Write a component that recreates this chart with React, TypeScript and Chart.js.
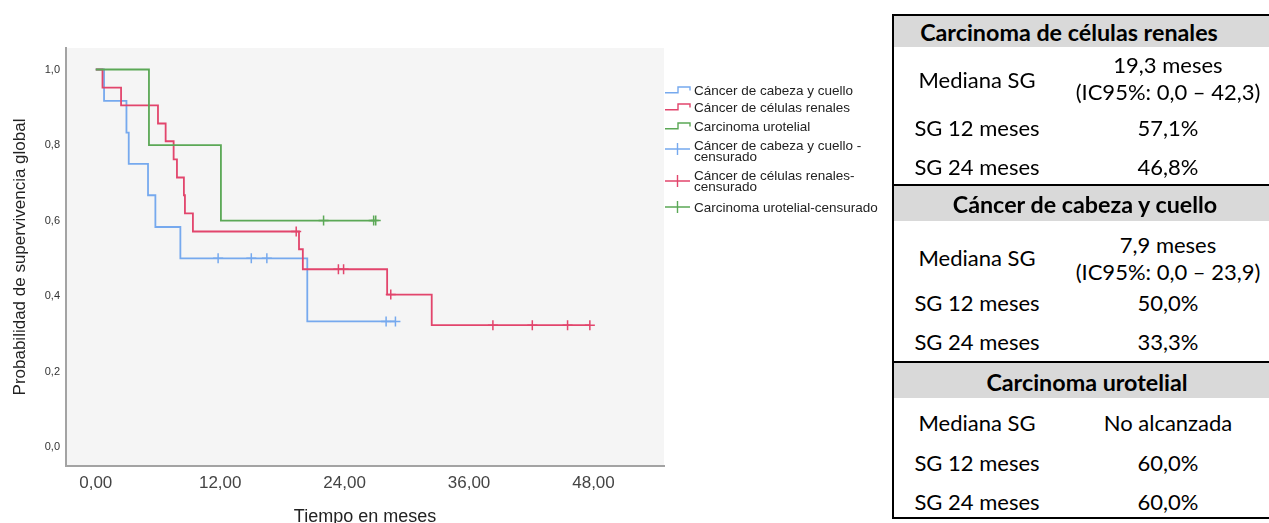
import React, { useEffect, useRef } from 'react';
import { Chart, registerables } from 'chart.js';

Chart.register(...registerables);

// ---------- data ----------
const X_TICKS = [0, 12, 24, 36, 48];
const Y_TICKS = [0, 0.2, 0.4, 0.6, 0.8, 1.0];

const SERIES_NAMES = ['Cáncer de cabeza y cuello', 'Cáncer de células renales', 'Carcinoma urotelial'];
const CENSORED_NAMES = [
  ['Cáncer de cabeza y cuello -', 'censurado'],
  ['Cáncer de células renales-', 'censurado'],
  ['Carcinoma urotelial-censurado'],
];
const COLORS = ['#76a9ee', '#e2456c', '#5ba856'];

const HN_TIME = [0, 0.8, 2.96, 3.18, 5.04, 5.75, 8.16, 20.4, 28.9];
const HN_SURV = [1, 0.917, 0.833, 0.75, 0.667, 0.583, 0.5, 0.333, 0.333];
const HN_CENS_TIME = [11.8, 15.0, 16.5, 28.0, 28.9];
const HN_CENS_SURV = [0.5, 0.5, 0.5, 0.333, 0.333];

const RCC_TIME = [0, 0.65, 2.44, 6.0, 6.74, 7.51, 7.83, 8.5, 8.6, 9.37, 19.6, 19.97, 28.1, 32.4, 47.65];
const RCC_SURV = [1, 0.952, 0.905, 0.857, 0.81, 0.762, 0.714, 0.667, 0.619, 0.571, 0.524, 0.471, 0.404, 0.323, 0.323];
const RCC_CENS_TIME = [19.33, 23.4, 23.9, 28.45, 38.3, 42.1, 45.5, 47.65];
const RCC_CENS_SURV = [0.571, 0.471, 0.471, 0.404, 0.323, 0.323, 0.323, 0.323];

const URO_TIME = [0, 5.13, 12.07, 27.0];
const URO_SURV = [1, 0.8, 0.6, 0.6];
const URO_CENS_TIME = [21.97, 26.8, 27.0];
const URO_CENS_SURV = [0.6, 0.6, 0.6];

const TABLE_TITLES = ['Carcinoma de células renales', 'Cáncer de cabeza y cuello', 'Carcinoma urotelial'];
const ROW_LABELS = ['Mediana SG', 'SG 12 meses', 'SG 24 meses'];
const MEDIAN_VALUES = [
  ['19,3 meses', '(IC95%: 0,0 – 42,3)'],
  ['7,9 meses', '(IC95%: 0,0 – 23,9)'],
  ['No alcanzada'],
];
const SG12_VALUES = ['57,1%', '50,0%', '60,0%'];
const SG24_VALUES = ['46,8%', '33,3%', '60,0%'];

// ---------- layout ----------
const CANVAS_W = 680;
const CANVAS_H = 540;
const AREA = { left: 66, right: 664, top: 48, bottom: 466 };

const toPts = (t: number[], s: number[]) => t.map((x, i) => ({ x, y: s[i] }));

const plotBg = {
  id: 'plotBg',
  beforeDraw(chart: any) {
    const { ctx, chartArea } = chart;
    ctx.save();
    ctx.fillStyle = '#f5f5f5';
    ctx.fillRect(chartArea.left, chartArea.top, chartArea.right - chartArea.left, chartArea.bottom - chartArea.top);
    ctx.restore();
  },
};

const LEGEND_FONT = "'Liberation Sans', Arial, sans-serif";
const LINE_ITEM_Y = [90.7, 108.3, 126.7];
const CENS_ITEM_LINES = [[145.7, 156.7], [175.5, 187], [208.3]];
const CENS_ICON_Y = [149, 180.5, 206.5];

const TABLE_FONT = "Lato, 'Open Sans', sans-serif";
const SECTION_TOP = [15, 185, 362];
const SECTION_BOTTOM = 518;
const HEADER_H = [32, 36, 36];
const HEADER_CY = [33, 205, 383];
const HEADER_CX = [1069, 1085, 1087];
const MED_CY = [[65, 92], [245, 272], [423]];
const LABEL_CY = [[80, 128, 167], [258, 303, 342], [423, 463, 502]];
const SG_CY = [[128, 167], [303, 342], [463, 502]];
const TABLE_LEFT = 893;
const LEFT_COL_CX = 977;
const RIGHT_COL_CX = 1168;

function TextAt({ x, y, text, size, weight, family, color }: any) {
  return (
    <div
      style={{
        position: 'absolute',
        left: x - 200,
        top: y - size * 0.6,
        width: 400,
        height: size * 1.2,
        lineHeight: `${size * 1.2}px`,
        textAlign: 'center',
        fontSize: size,
        fontWeight: weight || 400,
        fontFamily: family,
        color: color || '#000',
        whiteSpace: 'nowrap',
      }}
    >
      {text}
    </div>
  );
}

export default function App() {
  const ref = useRef<HTMLCanvasElement | null>(null);

  useEffect(() => {
    if (!ref.current) return;
    const lineDs = (t: number[], s: number[], i: number) => ({
      type: 'line',
      label: SERIES_NAMES[i],
      data: toPts(t, s),
      stepped: true,
      borderColor: COLORS[i],
      borderWidth: 1.8,
      pointRadius: 0,
      fill: false,
      order: 3 - i,
    });
    const censDs = (t: number[], s: number[], i: number) => ({
      type: 'scatter',
      label: CENSORED_NAMES[i].join(' '),
      data: toPts(t, s),
      showLine: false,
      pointStyle: 'cross',
      pointRadius: 5,
      borderColor: COLORS[i],
      borderWidth: 1.5,
      order: 0,
    });
    const chart = new Chart(ref.current, {
      type: 'line',
      data: {
        datasets: [
          lineDs(HN_TIME, HN_SURV, 0),
          lineDs(RCC_TIME, RCC_SURV, 1),
          lineDs(URO_TIME, URO_SURV, 2),
          censDs(HN_CENS_TIME, HN_CENS_SURV, 0),
          censDs(RCC_CENS_TIME, RCC_CENS_SURV, 1),
          censDs(URO_CENS_TIME, URO_CENS_SURV, 2),
        ] as any,
      },
      options: {
        responsive: false,
        maintainAspectRatio: false,
        animation: false,
        events: [],
        layout: { padding: { top: AREA.top, right: CANVAS_W - AREA.right, left: 0, bottom: 0 } },
        plugins: { legend: { display: false }, tooltip: { enabled: false } },
        scales: {
          x: {
            type: 'linear',
            min: -2.87,
            max: 54.8,
            afterBuildTicks: (s: any) => {
              s.ticks = X_TICKS.map((v) => ({ value: v }));
            },
            afterFit: (s: any) => {
              s.height = CANVAS_H - AREA.bottom;
            },
            grid: { display: false, drawTicks: false },
            border: { display: true, color: '#a3a3a3', width: 2 },
            ticks: {
              padding: 7,
              color: '#444',
              autoSkip: false,
              maxRotation: 0,
              font: { family: LEGEND_FONT, size: 17 },
              callback: (v: any) => Number(v).toFixed(2).replace('.', ','),
            },
            title: {
              display: true,
              text: 'Tiempo en meses',
              color: '#222',
              font: { family: LEGEND_FONT, size: 18 },
              padding: { top: 0, bottom: 12 },
            },
          },
          y: {
            type: 'linear',
            min: -0.05,
            max: 1.057,
            afterBuildTicks: (s: any) => {
              s.ticks = Y_TICKS.map((v) => ({ value: v }));
            },
            afterFit: (s: any) => {
              s.width = AREA.left;
            },
            grid: { display: false, drawTicks: false },
            border: { display: true, color: '#a3a3a3', width: 2 },
            ticks: {
              padding: 6,
              color: '#333',
              font: { family: LEGEND_FONT, size: 11 },
              callback: (v: any) => Number(v).toFixed(1).replace('.', ','),
            },
            title: {
              display: true,
              text: 'Probabilidad de supervivencia global',
              color: '#222',
              font: { family: LEGEND_FONT, size: 17 },
              padding: { top: 10.5, bottom: 0 },
            },
          },
        },
      } as any,
      plugins: [plotBg],
    });
    return () => chart.destroy();
  }, []);

  const legendText = (x: number, y: number, text: string, key: string) => (
    <div
      key={key}
      style={{
        position: 'absolute',
        left: x,
        top: y - 7,
        height: 14,
        lineHeight: '14px',
        fontSize: 13.5,
        fontFamily: LEGEND_FONT,
        color: '#222',
        whiteSpace: 'nowrap',
      }}
    >
      {text}
    </div>
  );

  return (
    <div
      style={{
        position: 'absolute',
        left: 0,
        top: 0,
        width: 1269,
        height: 523,
        overflow: 'hidden',
        background: '#fff',
      }}
    >
      <canvas
        ref={ref}
        width={CANVAS_W}
        height={CANVAS_H}
        style={{ position: 'absolute', left: 0, top: 0, width: CANVAS_W, height: CANVAS_H }}
      />

      {/* legend */}
      {SERIES_NAMES.map((name, i) => {
        const c = LINE_ITEM_Y[i];
        return (
          <React.Fragment key={'l' + i}>
            <svg style={{ position: 'absolute', left: 664, top: c - 8, width: 28, height: 16 }}>
              <path d={`M1,${8 + 1.8} H14 V${8 - 4} H26 V${8 - 0.5}`} stroke={COLORS[i]} strokeWidth={1.4} fill="none" />
            </svg>
            {legendText(694, c, name, 't' + i)}
          </React.Fragment>
        );
      })}
      {CENSORED_NAMES.map((lines, i) => {
        const c = CENS_ICON_Y[i];
        return (
          <React.Fragment key={'c' + i}>
            <svg style={{ position: 'absolute', left: 664, top: c - 8, width: 28, height: 16 }}>
              <path d="M1,8 H26 M13.5,2 V14" stroke={COLORS[i]} strokeWidth={1.4} fill="none" />
            </svg>
            {lines.map((ln, j) => legendText(694, CENS_ITEM_LINES[i][j], ln, 'ct' + i + j))}
          </React.Fragment>
        );
      })}

      {/* table */}
      {TABLE_TITLES.map((title, s) => (
        <React.Fragment key={'s' + s}>
          <div
            style={{
              position: 'absolute',
              left: TABLE_LEFT,
              top: SECTION_TOP[s],
              width: 1300 - TABLE_LEFT,
              height: HEADER_H[s],
              background: '#d9d9d9',
            }}
          />
          <div
            style={{
              position: 'absolute',
              left: TABLE_LEFT,
              top: SECTION_TOP[s] - 1,
              width: 1300 - TABLE_LEFT,
              height: 2,
              background: '#000',
            }}
          />
          <TextAt x={HEADER_CX[s]} y={HEADER_CY[s]} text={title} size={23.3} weight={700} family={TABLE_FONT} />
          <TextAt x={LEFT_COL_CX} y={LABEL_CY[s][0]} text={ROW_LABELS[0]} size={22} family={TABLE_FONT} />
          <TextAt x={LEFT_COL_CX} y={LABEL_CY[s][1]} text={ROW_LABELS[1]} size={22} family={TABLE_FONT} />
          <TextAt x={LEFT_COL_CX} y={LABEL_CY[s][2]} text={ROW_LABELS[2]} size={22} family={TABLE_FONT} />
          {MEDIAN_VALUES[s].map((v, j) => (
            <TextAt key={'m' + j} x={RIGHT_COL_CX} y={MED_CY[s][j]} text={v} size={22} family={TABLE_FONT} />
          ))}
          <TextAt x={RIGHT_COL_CX} y={SG_CY[s][0]} text={SG12_VALUES[s]} size={22} family={TABLE_FONT} />
          <TextAt x={RIGHT_COL_CX} y={SG_CY[s][1]} text={SG24_VALUES[s]} size={22} family={TABLE_FONT} />
        </React.Fragment>
      ))}
      <div
        style={{
          position: 'absolute',
          left: TABLE_LEFT,
          top: SECTION_BOTTOM - 1,
          width: 1300 - TABLE_LEFT,
          height: 2,
          background: '#000',
        }}
      />
      <div
        style={{
          position: 'absolute',
          left: TABLE_LEFT - 1,
          top: SECTION_TOP[0] - 1,
          width: 2,
          height: SECTION_BOTTOM - SECTION_TOP[0] + 2,
          background: '#000',
        }}
      />
    </div>
  );
}
